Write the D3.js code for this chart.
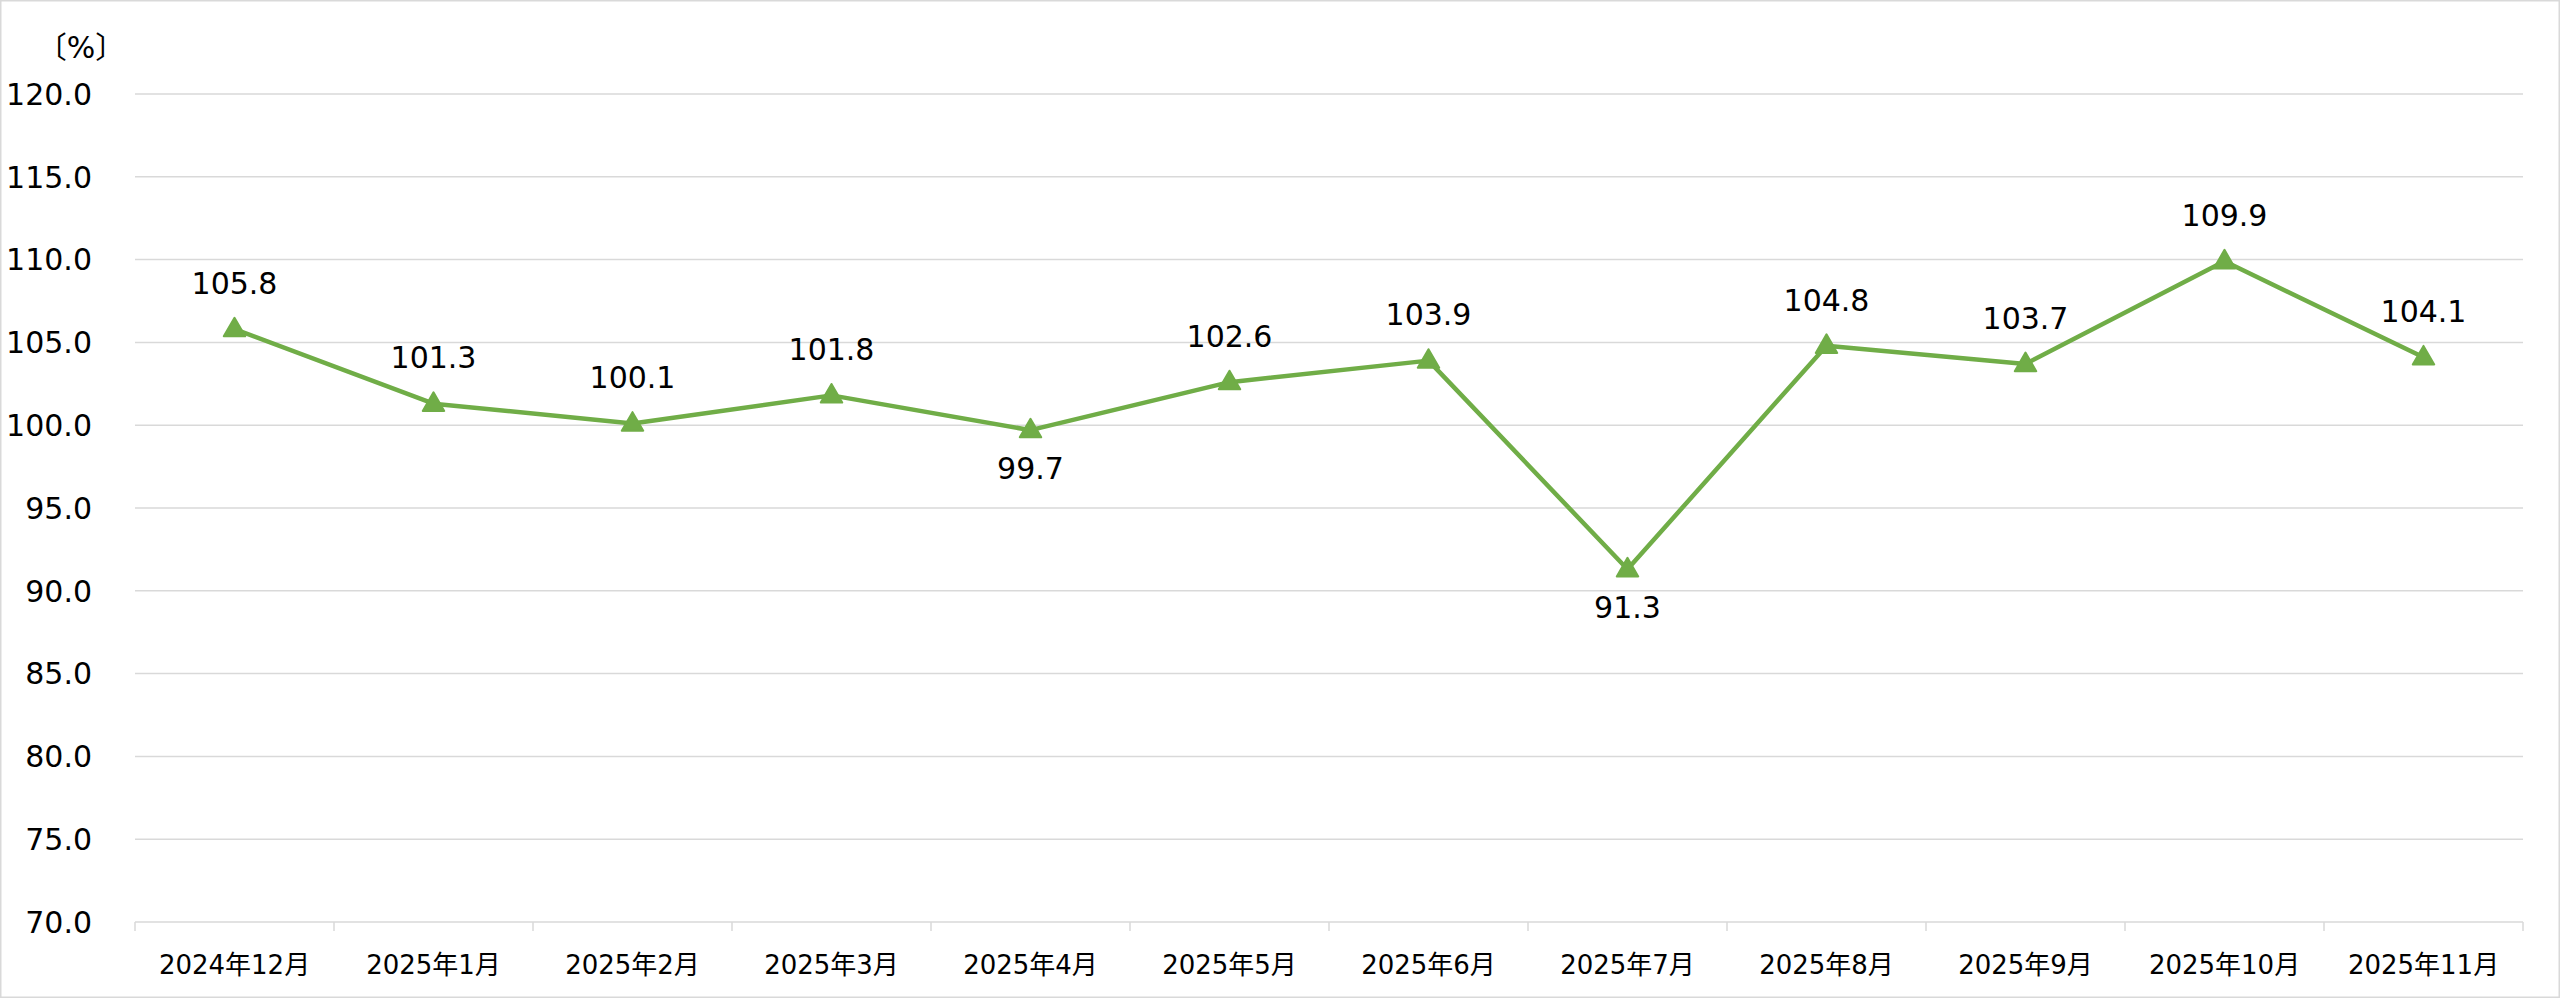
<!DOCTYPE html>
<html><head><meta charset="utf-8">
<script src="https://cdn.jsdelivr.net/npm/d3@7"></script>
<style>
html,body{margin:0;padding:0;background:#fff;}
svg{display:block;}
text{font-family:"DejaVu Sans","Noto Sans CJK JP",sans-serif;fill:#000;}
</style></head>
<body>
<script>
const categories = ["2024年12月","2025年1月","2025年2月","2025年3月","2025年4月","2025年5月","2025年6月","2025年7月","2025年8月","2025年9月","2025年10月","2025年11月"];
const values = [105.8,101.3,100.1,101.8,99.7,102.6,103.9,91.3,104.8,103.7,109.9,104.1];
const labelBelow = [false,false,false,false,true,false,false,true,false,false,false,false];
const yTicks = [70,75,80,85,90,95,100,105,110,115,120];
const unitLabel = "〔%〕";

const W = 2560, H = 998;
const m = {left:135, right:37, top:94, bottom:76};
const svg = d3.select("body").append("svg").attr("width",W).attr("height",H);
svg.append("rect").attr("x",0.5).attr("y",0.5).attr("width",W-1).attr("height",H-1)
  .attr("fill","#fff").attr("stroke","#d9d9d9").attr("stroke-width",2);

const x = d3.scaleBand().domain(categories).range([m.left, W-m.right]);
const y = d3.scaleLinear().domain([70,120]).range([H-m.bottom, m.top]);

// gridlines
svg.append("g").selectAll("line").data(yTicks.slice(1)).join("line")
  .attr("x1",m.left).attr("x2",W-m.right)
  .attr("y1",d=>y(d)).attr("y2",d=>y(d))
  .attr("stroke","#d9d9d9").attr("stroke-width",1.5);

// y axis labels
svg.append("g").selectAll("text").data(yTicks).join("text")
  .attr("x",92).attr("y",d=>y(d)).attr("dy","0.36em")
  .attr("text-anchor","end").style("font-size","30px")
  .text(d=>d3.format(".1f")(d));

svg.append("text").attr("x",81).attr("y",47).attr("dy","0.36em").attr("text-anchor","middle")
  .style("font-size","30px").text(unitLabel);

// x axis
const xAxis = d3.axisBottom(x).tickSize(0).tickPadding(0);
const gx = svg.append("g").attr("transform",`translate(0,${y(70)})`).call(xAxis);
gx.select(".domain").remove();
gx.selectAll("text").attr("y",43).attr("dy","0.36em").style("font-size","26px")
  .style("font-family",'"DejaVu Sans","Noto Sans CJK JP",sans-serif').attr("fill","#000");
gx.append("line").attr("x1",m.left).attr("x2",W-m.right).attr("y1",0).attr("y2",0)
  .attr("stroke","#d9d9d9").attr("stroke-width",1.5);
const bounds = categories.map(c=>x(c)).concat([W-m.right]);
gx.selectAll(".bt").data(bounds).join("line").attr("class","bt")
  .attr("x1",d=>d).attr("x2",d=>d).attr("y1",0).attr("y2",9)
  .attr("stroke","#d9d9d9").attr("stroke-width",1.5);

// line
const cx = i => x(categories[i]) + x.bandwidth()/2;
const line = d3.line().x((d,i)=>cx(i)).y(d=>y(d));
svg.append("path").datum(values).attr("d",line)
  .attr("fill","none").attr("stroke","#70ad47").attr("stroke-width",4.5).attr("stroke-linejoin","round");

// markers
const tri = d3.symbol().type(d3.symbolTriangle).size(200);
svg.append("g").selectAll("path").data(values).join("path")
  .attr("d",tri).attr("transform",(d,i)=>`translate(${cx(i)},${y(d)+1})`)
  .attr("fill","#70ad47").attr("stroke","#70ad47").attr("stroke-width",2).attr("stroke-linejoin","round");

// data labels
svg.append("g").selectAll("text").data(values).join("text")
  .attr("x",(d,i)=>cx(i)).attr("y",(d,i)=>labelBelow[i] ? y(d)+38 : y(d)-46)
  .attr("dy","0.36em").attr("text-anchor","middle").style("font-size","30px")
  .text(d=>d3.format(".1f")(d));
</script>
</body></html>
